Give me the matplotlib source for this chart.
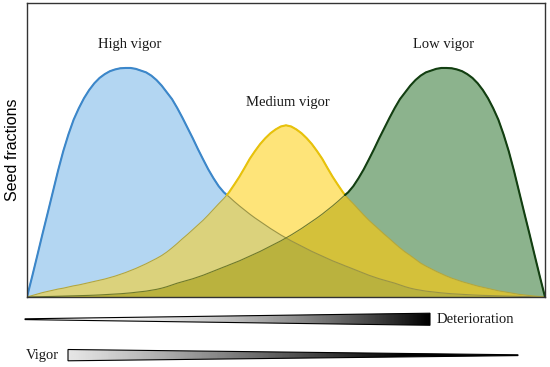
import numpy as np
import matplotlib; matplotlib.use("Agg")
import matplotlib.pyplot as plt
from matplotlib.patches import Polygon

# shared x grid (0-100 across the frame, plus the two crossing points),
# curve heights (0-100 = frame height)
x = list(range(0, 39)) + [38.6] + list(range(39, 62)) + [61.4] + list(range(62, 101))
high_vigor = [0, 7.0, 14.2, 21.5, 28.6, 35.8, 43.0, 49.6, 55.3, 60.3, 64.2, 67.6, 70.4, 72.7, 74.5,
              75.8, 76.8, 77.4, 77.8, 77.9, 77.9, 77.6, 77.0, 76.4, 75.3, 73.8, 71.9, 69.6, 67.3,
              64.3, 61.0, 57.5, 54.0, 50.3, 46.8, 43.4, 40.4, 37.7, 35.6, 34.7, 34.1, 32.5, 31.0,
              29.6, 28.2, 26.9, 25.7, 24.5, 23.3, 22.2, 21.1, 20.1, 19.1, 18.2, 17.3, 16.4, 15.5,
              14.7, 13.9, 13.1, 12.3, 11.6, 10.9, 10.6, 10.2, 9.5, 8.8, 8.1, 7.4, 6.8, 6.2, 5.7,
              5.2, 4.7, 4.1, 3.5, 3.0, 2.6, 2.3, 2.0, 1.8, 1.6, 1.4, 1.25, 1.1, 1.0, 0.9, 0.8, 0.7,
              0.62, 0.55, 0.5, 0.45, 0.4, 0.35, 0.3, 0.25, 0.2, 0.16, 0.12, 0.08, 0.04, 0]
medium_vigor = [0, 0.5, 1.0, 1.5, 1.9, 2.3, 2.7, 3.0, 3.4, 3.8, 4.1, 4.5, 4.9, 5.3, 5.7, 6.1, 6.6,
                7.1, 7.7, 8.3, 9.0, 9.7, 10.5, 11.3, 12.2, 13.1, 14.1, 15.3, 16.7, 18.2, 19.8, 21.3,
                22.9, 24.5, 26.1, 27.9, 29.8, 31.7, 33.5, 34.7, 35.6, 38.2, 40.9, 43.9, 47.0, 49.6,
                52.0, 54.0, 55.7, 57.0, 58.0, 58.4, 58.0, 57.0, 55.7, 54.0, 52.0, 49.6, 47.0, 43.9,
                40.9, 38.2, 35.6, 34.7, 33.5, 31.7, 29.8, 27.9, 26.1, 24.5, 22.9, 21.3, 19.8, 18.2,
                16.7, 15.3, 14.1, 12.8, 11.5, 10.5, 9.6, 8.7, 7.9, 7.1, 6.4, 5.8, 5.2, 4.7, 4.2,
                3.7, 3.3, 2.9, 2.5, 2.1, 1.8, 1.5, 1.2, 0.9, 0.7, 0.5, 0.3, 0.15, 0]
low_vigor = [0, 0.04, 0.08, 0.12, 0.16, 0.2, 0.25, 0.3, 0.35, 0.4, 0.45, 0.5, 0.55, 0.62, 0.7, 0.8,
             0.9, 1.0, 1.1, 1.25, 1.4, 1.6, 1.8, 2.0, 2.3, 2.6, 3.0, 3.5, 4.1, 4.7, 5.2, 5.7, 6.2,
             6.8, 7.4, 8.1, 8.8, 9.5, 10.2, 10.6, 10.9, 11.6, 12.3, 13.1, 13.9, 14.7, 15.5, 16.4,
             17.3, 18.2, 19.1, 20.1, 21.1, 22.2, 23.3, 24.5, 25.7, 26.9, 28.2, 29.6, 31.0, 32.5,
             34.1, 34.7, 35.6, 37.7, 40.4, 43.4, 46.8, 50.3, 54.0, 57.5, 61.0, 64.3, 67.3, 69.6,
             71.9, 73.8, 75.3, 76.4, 77.0, 77.6, 77.9, 77.9, 77.8, 77.4, 76.8, 75.8, 74.5, 72.7,
             70.4, 67.6, 64.2, 60.3, 55.3, 49.6, 43.0, 35.8, 28.6, 21.5, 14.2, 7.0, 0]
labels = ["High vigor", "Medium vigor", "Low vigor"]
label_pos = [(19.9, 86), (50.4, 66.3), (80.5, 86)]

x = np.array(x, float); B = np.array(high_vigor); Y = np.array(medium_vigor); G = np.array(low_vigor)

SERIF = ["Liberation Serif", "DejaVu Serif"]
fig = plt.figure(figsize=(5.5, 3.67), dpi=100)
ax = fig.add_axes([27/550, 70/367, 518/550, 294/367])
ax.set_xlim(0, 100); ax.set_ylim(0, 100)
ax.set_xticks([]); ax.set_yticks([])
for s in ax.spines.values():
    s.set_color("#333333"); s.set_linewidth(1.0)

# fills: single curves, then the overlaps with their own colours
ax.fill_between(x, 0, B, color="#b3d6f2", lw=0)
ax.fill_between(x, 0, G, color="#8cb38d", lw=0)
ax.fill_between(x, 0, Y, color="#fee479", lw=0)
ax.fill_between(x, 0, np.minimum(B, Y), color="#dbd27c", lw=0)
ax.fill_between(x, 0, np.minimum(G, Y), color="#d4c13a", lw=0)
ax.fill_between(x, 0, np.minimum(np.minimum(B, G), Y), color="#bab23e", lw=0)

# hidden outlines (muted), then the exposed outlines on the upper envelope
top = np.maximum(np.maximum(B, Y), G)
for yy, hid, col in [(B, "#9a9446", "#3b87cc"), (Y, "#b5a73a", "#e8c20a"), (G, "#6f7a2c", "#123f12")]:
    ax.plot(x, yy, color=hid, lw=0.8)
    ax.plot(x, np.ma.masked_where(yy < top - 1e-9, yy), color=col, lw=1.5, solid_capstyle="round")

for lab, (lx, ly) in zip(labels, label_pos):
    ax.text(lx, ly, lab, ha="center", va="center", fontsize=10.5, family=SERIF, color="#1a1a1a")
ax.set_ylabel("Seed fractions", fontsize=11.5, family=["Liberation Sans", "DejaVu Sans"], labelpad=5)

# gradient wedges below the plot (pixel-like coordinates of the figure)
axb = fig.add_axes([0, 0, 1, 1], zorder=-1); axb.set_xlim(0, 550); axb.set_ylim(367, 0); axb.axis("off")

def wedge(pts, dark):
    poly = Polygon(pts, closed=True, fc="none", ec="black", lw=0.8, zorder=3)
    axb.add_patch(poly)
    xs = [p[0] for p in pts]; ys = [p[1] for p in pts]
    grad = np.array(dark).reshape(1, -1)
    im = axb.imshow(grad, cmap="gray_r", vmin=0, vmax=1, aspect="auto",
                    extent=[min(xs), max(xs), max(ys), min(ys)], zorder=2)
    im.set_clip_path(poly)

t = np.linspace(0, 1, 256)
wedge([(25, 318.8), (430, 313.2), (430, 325.3), (25, 319.6)], t ** 2)
wedge([(68, 349.5), (518, 354.8), (518, 355.6), (68, 360.8)], 0.1 + 0.9 * np.clip(t / 0.75, 0, 1) ** 1.1)
axb.set_xlim(0, 550); axb.set_ylim(367, 0)
axb.text(437, 319.5, "Deterioration", ha="left", va="center", fontsize=10.5, family=SERIF, color="#1a1a1a")
axb.text(26, 355, "Vigor", ha="left", va="center", fontsize=10.5, family=SERIF, color="#1a1a1a")

fig.savefig("out.png", dpi=100)
